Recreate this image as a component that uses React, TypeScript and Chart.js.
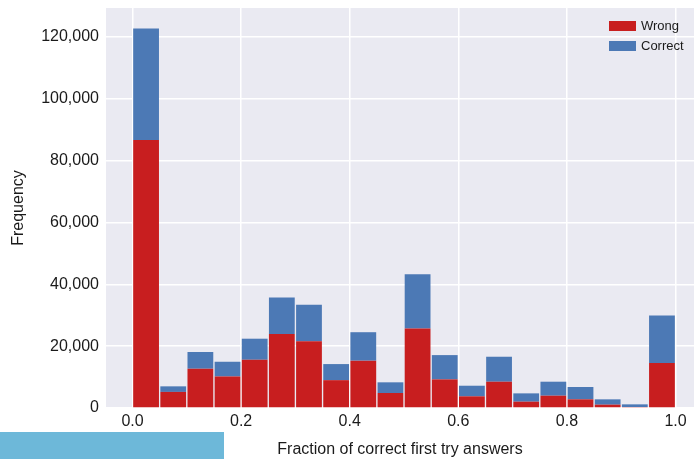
import React, { useEffect, useRef } from "react";
import { Chart, registerables } from "chart.js";

Chart.register(...registerables);

// Histogram bins (centres of 0.05-wide bins from 0 to 1)
const binCenters = [
  0.025, 0.075, 0.125, 0.175, 0.225, 0.275, 0.325, 0.375, 0.425, 0.475,
  0.525, 0.575, 0.625, 0.675, 0.725, 0.775, 0.825, 0.875, 0.925, 0.975,
];
const wrongValues = [
  86600, 5200, 12700, 10200, 15600, 23900, 21600, 9000, 15300, 4850,
  25700, 9250, 3770, 8500, 2050, 3980, 2800, 1080, 320, 14530,
];
const correctValues = [
  36100, 1800, 5400, 4750, 6800, 11800, 11800, 5200, 9200, 3450,
  17560, 7850, 3430, 8070, 2680, 4520, 3980, 1720, 860, 15370,
];
const xTickValues = [0, 0.2, 0.4, 0.6, 0.8, 1.0];
const yTickValues = [0, 20000, 40000, 60000, 80000, 100000, 120000];
const seriesLabels = ["Wrong", "Correct"];
const xTitle = "Fraction of correct first try answers";
const yTitle = "Frequency";

const FONT = "'Liberation Sans', Arial, Helvetica, sans-serif";
const RED = "#C81E1F";
const BLUE = "#4C79B5";

const bgPlugin = {
  id: "plotBg",
  beforeDraw(chart: any) {
    const { ctx, chartArea } = chart;
    ctx.save();
    ctx.fillStyle = "#EAEAF2";
    ctx.fillRect(chartArea.left, chartArea.top, chartArea.right - chartArea.left, chartArea.bottom - chartArea.top);
    ctx.restore();
  },
};

const legendPlugin = {
  id: "customLegend",
  afterDraw(chart: any) {
    const { ctx } = chart;
    ctx.save();
    chart.data.datasets.forEach((ds: any, i: number) => {
      const y = 21 + i * 20;
      ctx.fillStyle = ds.backgroundColor;
      ctx.fillRect(609, y, 27, 10);
      ctx.fillStyle = "#1a1a1a";
      ctx.font = `13px ${FONT}`;
      ctx.textBaseline = "middle";
      ctx.textAlign = "left";
      ctx.fillText(ds.label, 641, y + 5.5);
    });
    ctx.restore();
  },
};

export default function App() {
  const ref = useRef<HTMLCanvasElement | null>(null);

  useEffect(() => {
    if (!ref.current) return;
    const chart = new Chart(ref.current, {
      type: "bar",
      data: {
        datasets: [
          {
            label: seriesLabels[0],
            data: binCenters.map((x, i) => ({ x, y: wrongValues[i] })),
            backgroundColor: RED,
            borderWidth: 0,
            barPercentage: 0.95,
            categoryPercentage: 1,
          },
          {
            label: seriesLabels[1],
            data: binCenters.map((x, i) => ({ x, y: correctValues[i] })),
            backgroundColor: BLUE,
            borderWidth: 0,
            barPercentage: 0.95,
            categoryPercentage: 1,
          },
        ],
      },
      options: {
        animation: false,
        responsive: false,
        maintainAspectRatio: false,
        layout: { padding: { top: 8, right: 0, bottom: 0, left: 0 } },
        plugins: { legend: { display: false }, tooltip: { enabled: false } },
        scales: {
          x: {
            type: "linear",
            min: -0.0488,
            max: 1.034,
            offset: false,
            stacked: true,
            grid: { color: "#FFFFFF", lineWidth: 1.5, drawTicks: false, offset: false },
            border: { display: false },
            afterBuildTicks: (s: any) => {
              s.ticks = xTickValues.map((v) => ({ value: v }));
            },
            afterFit: (s: any) => {
              s.height = 51;
              s.paddingLeft = 0;
              s.paddingRight = 0;
            },
            ticks: {
              color: "#1a1a1a",
              font: { family: FONT, size: 16 },
              padding: 4,
              maxRotation: 0,
              callback: (v: any) => Number(v).toFixed(1),
            },
            title: {
              display: true,
              text: xTitle,
              color: "#1a1a1a",
              font: { family: FONT, size: 16 },
              padding: { top: 0, bottom: 0 },
            },
          },
          y: {
            min: 0,
            max: 129300,
            stacked: true,
            grid: { color: "#FFFFFF", lineWidth: 1.5, drawTicks: false },
            border: { display: false },
            afterBuildTicks: (s: any) => {
              s.ticks = yTickValues.map((v) => ({ value: v }));
            },
            afterFit: (s: any) => {
              s.width = 106;
              s.paddingTop = 0;
              s.paddingBottom = 0;
            },
            ticks: {
              color: "#1a1a1a",
              font: { family: FONT, size: 16 },
              padding: 7,
              callback: (v: any) => Number(v).toLocaleString("en-US"),
            },
            title: {
              display: true,
              text: yTitle,
              color: "#1a1a1a",
              font: { family: FONT, size: 16 },
              padding: { top: 9, bottom: 0 },
            },
          },
        },
      } as any,
      plugins: [bgPlugin, legendPlugin],
    });
    return () => chart.destroy();
  }, []);

  return (
    <div style={{ position: "absolute", left: 0, top: 0, width: 694, height: 459, background: "#fff" }}>
      <canvas ref={ref} width={694} height={459} style={{ display: "block" }} />
      <div
        style={{
          position: "absolute",
          left: 0,
          top: 432,
          width: 224,
          height: 27,
          background: "#6DB8D9",
        }}
      />
    </div>
  );
}
